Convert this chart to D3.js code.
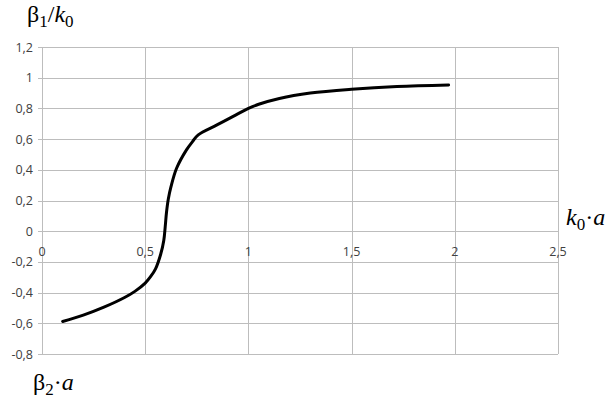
<!DOCTYPE html>
<html><head><meta charset="utf-8">
<script src="https://cdn.jsdelivr.net/npm/d3@7"></script>
<style>body{margin:0;background:#fff}svg{display:block}</style>
</head><body>
<svg id="c" width="616" height="402"></svg>
<script>
const xTicks = [0, 0.5, 1, 1.5, 2, 2.5];
const yTicks = [-0.8, -0.6, -0.4, -0.2, 0, 0.2, 0.4, 0.6, 0.8, 1, 1.2];
const xValues = [0.1, 0.2, 0.3, 0.4, 0.45, 0.5, 0.525, 0.55, 0.575, 0.59, 0.597, 0.603, 0.612, 0.625, 0.652, 0.70, 0.73, 0.757, 0.85, 0.94, 1.0, 1.05, 1.15, 1.3, 1.5, 1.72, 1.97];
const yValues = [-0.588, -0.547, -0.495, -0.432, -0.392, -0.338, -0.298, -0.245, -0.15, -0.06, 0.03, 0.12, 0.21, 0.29, 0.41, 0.53, 0.585, 0.628, 0.694, 0.758, 0.80, 0.827, 0.865, 0.90, 0.925, 0.943, 0.953];
const fmt = v => String(v).replace('.', ',');

const svg = d3.select('#c');
const x = d3.scaleLinear().domain([0, 2.5]).range([42, 558]);
const y = d3.scaleLinear().domain([-0.8, 1.2]).range([354, 47]);

// grid
svg.append('g').selectAll('line').data(yTicks).join('line')
  .attr('x1', x(0) - 4).attr('x2', x(2.5))
  .attr('y1', d => Math.round(y(d)) + 0.5).attr('y2', d => Math.round(y(d)) + 0.5)
  .attr('stroke', '#bdbdbd').attr('stroke-width', 1);
svg.append('g').selectAll('line').data(xTicks).join('line')
  .attr('y1', y(1.2)).attr('y2', y(-0.8))
  .attr('x1', d => Math.round(x(d)) + 0.5).attr('x2', d => Math.round(x(d)) + 0.5)
  .attr('stroke', '#bdbdbd').attr('stroke-width', 1);

// y labels
svg.append('g').selectAll('text').data(yTicks).join('text')
  .attr('x', 33).attr('y', d => y(d) + 4.5)
  .attr('text-anchor', 'end')
  .attr('font-family', 'Open Sans, Liberation Sans, sans-serif').attr('font-size', 12.5)
  .attr('fill', '#404040').text(fmt);
// x labels
svg.append('g').selectAll('text').data(xTicks).join('text')
  .attr('x', d => x(d)).attr('y', y(0) + 25)
  .attr('text-anchor', 'middle')
  .attr('font-family', 'Open Sans, Liberation Sans, sans-serif').attr('font-size', 12.5)
  .attr('fill', '#404040').text(fmt);

// curve
const pts = xValues.map((v, i) => [v, yValues[i]]);
svg.append('path').datum(pts)
  .attr('d', d3.line().x(d => x(d[0])).y(d => y(d[1])).curve(d3.curveCatmullRom.alpha(0.5)))
  .attr('fill', 'none').attr('stroke', '#000').attr('stroke-width', 3)
  .attr('stroke-linecap', 'round').attr('stroke-linejoin', 'round');

// titles
function title(xp, yp, parts) {
  const t = svg.append('text').attr('x', xp).attr('y', yp)
    .attr('font-family', 'Liberation Serif, Times New Roman, serif').attr('font-size', 24).attr('fill', '#000');
  parts.forEach(p => {
    const ts = t.append('tspan').text(p.t);
    if (p.i) ts.attr('font-style', 'italic');
    if (p.sub) ts.attr('font-size', 17).attr('dy', 5);
    if (p.up) ts.attr('dy', -5);
  });
}
title(27, 22, [{t:'β'}, {t:'1', sub:true}, {t:'/', up:true}, {t:'k', i:true}, {t:'0', sub:true}]);
title(566, 225, [{t:'k', i:true}, {t:'0', sub:true}, {t:'·', up:true}, {t:'a', i:true}]);
title(33, 390, [{t:'β'}, {t:'2', sub:true}, {t:'·', up:true}, {t:'a', i:true}]);
</script>
</body></html>
